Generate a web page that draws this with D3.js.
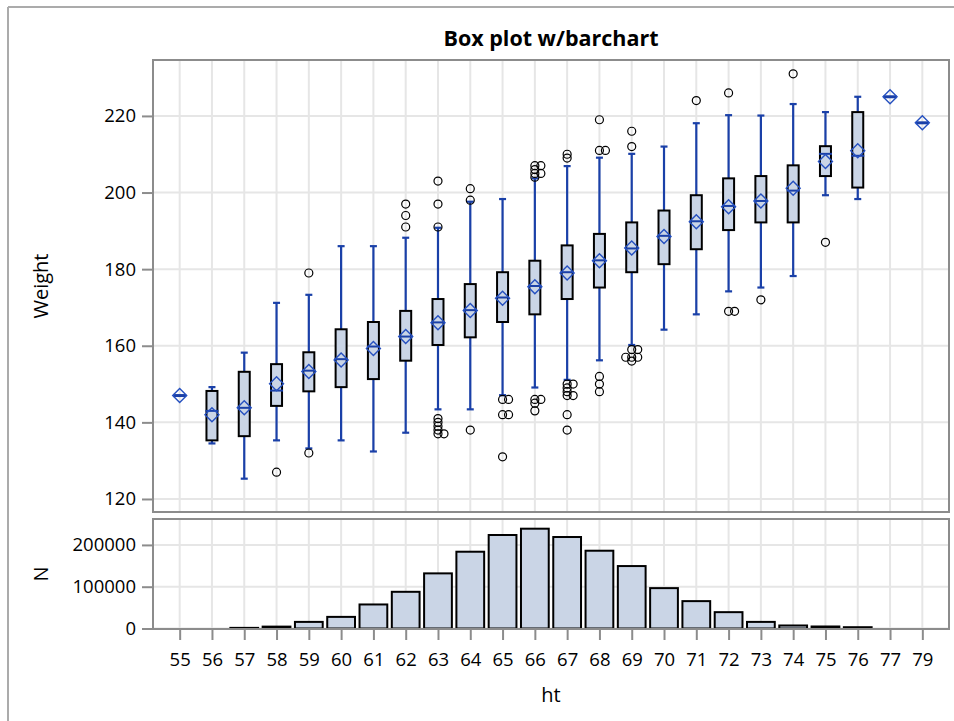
<!DOCTYPE html>
<html>
<head>
<meta charset="utf-8">
<script src="https://cdn.jsdelivr.net/npm/d3@7"></script>
<style>
  body { margin: 0; background: #fff; }
  svg text { font-family: "Open Sans", sans-serif; fill: #000; }
</style>
</head>
<body>
<div class="visHolder"></div>
<script>
// category labels (ht)
var heights = ['55', '56', '57', '58', '59', '60', '61', '62', '63', '64', '65', '66',
    '67', '68', '69', '70', '71', '72', '73', '74', '75', '76', '77', '79'];

// box statistics for Weight, one per height
var whiskerLow = [147, 134.5, 125.3, 135.3, 133.2, 135.3, 132.4, 137.3, 143.4, 143.4, 147.1, 149.1,
    151.1, 156.2, 160.2, 164.2, 168.2, 174.2, 175.2, 178.2, 199.3, 198.3, 225, 218.2];
var q1 = [147, 135.3, 136.4, 144.3, 148.1, 149.2, 151.3, 156.1, 160.2, 162.2, 166.2, 168.2,
    172.2, 175.2, 179.2, 181.3, 185.2, 190.2, 192.2, 192.2, 204.3, 201.3, 225, 218.2];
var medians = [147, 143, 143.8, 148.3, 153.5, 156.5, 159.8, 162.4, 166.1, 169.3, 172.6, 175.6,
    179.2, 182.3, 185.4, 188.7, 192.5, 196.5, 197.8, 200.5, 210.1, 209.6, 225, 218.2];
var q3 = [147, 148.2, 153.2, 155.2, 158.3, 164.3, 166.2, 169.1, 172.2, 176.1, 179.2, 182.2,
    186.2, 189.2, 192.2, 195.3, 199.3, 203.7, 204.3, 207.1, 212.1, 221, 225, 218.2];
var whiskerHigh = [147, 149.2, 158.2, 171.2, 173.3, 186, 186, 188.2, 190.8, 197.6, 198.3, 203.7,
    206.9, 209.1, 210.1, 212, 218.1, 220.2, 220.1, 223.1, 221, 225, 225, 218.2];
var means = [147, 142, 143.8, 150.1, 153.3, 156.3, 159.3, 162.4, 166, 169.2, 172.4, 175.4,
    179, 182.2, 185.5, 188.5, 192.4, 196.3, 197.8, 201.1, 208.1, 210.9, 225, 218.2];
var outliers = [
    [], [], [], [127], [132, 179], [], [], [197, 194, 191],
    [203, 197, 191, 141, 140, 139, 138, 137, 137],
    [201, 198, 138],
    [146, 146, 142, 142, 131],
    [207, 207, 206, 205, 205, 204, 146, 146, 145, 143],
    [210, 209, 150, 150, 149, 148, 147, 147, 142, 138],
    [219, 211, 211, 152, 150, 148],
    [216, 212, 159, 159, 157, 157, 157, 156],
    [], [224], [226, 169, 169], [172], [231], [187], [], [], []
];

// frequency of each height
var counts = [1, 4, 1500, 4500, 15800, 27800, 57500, 87800, 131900, 183700, 223700, 238800,
    218900, 186100, 149400, 96600, 65500, 39100, 15800, 7200, 4800, 3100, 2, 1];

var weightTicks = [120, 140, 160, 180, 200, 220];
var countTicks = [0, 100000, 200000];

var width = 954,
    height = 721,
    left = 153,
    right = 949,
    topY = 60,
    topBottom = 512,
    barTop = 519,
    barBottom = 629;

var blue = '#1a40a8',
    boxFill = '#cad5e6',
    gridColor = '#e6e6e6',
    frameColor = '#8c8c8c';

var svg = d3
    .select('.visHolder')
    .append('svg')
    .attr('width', width)
    .attr('height', height);

svg.append('rect').attr('width', width).attr('height', height).style('fill', '#fff');

// outer border (only left and top show)
svg.append('line').attr('x1', 8).attr('x2', 8).attr('y1', 7).attr('y2', height)
    .style('stroke', '#ababab').style('stroke-width', 2);
svg.append('line').attr('x1', 8).attr('x2', width).attr('y1', 7).attr('y2', 7)
    .style('stroke', '#ababab').style('stroke-width', 2);

var xScale = d3.scalePoint().domain(heights).range([left, right]).padding(0.826);
var step = xScale.step();

var yScale = d3.scaleLinear().domain([116.6, 234.6]).range([topBottom, topY]);
var nScale = d3.scaleLinear().domain([0, 262000]).range([628.5, barTop]);

// gridlines
var grid = svg.append('g');
grid.selectAll('.hgrid')
    .data(weightTicks)
    .enter()
    .append('line')
    .attr('x1', left).attr('x2', right)
    .attr('y1', d => yScale(d)).attr('y2', d => yScale(d))
    .style('stroke', gridColor).style('stroke-width', 2);
grid.selectAll('.ngrid')
    .data(countTicks)
    .enter()
    .append('line')
    .attr('x1', left).attr('x2', right)
    .attr('y1', d => nScale(d)).attr('y2', d => nScale(d))
    .style('stroke', gridColor).style('stroke-width', 2);
grid.selectAll('.vgrid')
    .data(heights)
    .enter()
    .append('line')
    .attr('x1', d => xScale(d)).attr('x2', d => xScale(d))
    .attr('y1', topY).attr('y2', topBottom)
    .style('stroke', gridColor).style('stroke-width', 2);
grid.selectAll('.vgrid2')
    .data(heights)
    .enter()
    .append('line')
    .attr('x1', d => xScale(d)).attr('x2', d => xScale(d))
    .attr('y1', barTop).attr('y2', barBottom)
    .style('stroke', gridColor).style('stroke-width', 2);

// Adding the bars (bars thinner than half a pixel are not drawn)
var barW = step * 0.86;
svg.append('g')
    .selectAll('rect')
    .data(counts.map((d, i) => ({ h: heights[i], n: d }))
        .filter(d => nScale(0) - nScale(d.n) >= 0.5))
    .enter()
    .append('rect')
    .attr('x', d => xScale(d.h) - barW / 2)
    .attr('y', d => nScale(d.n))
    .attr('width', barW)
    .attr('height', d => nScale(0) - nScale(d.n))
    .style('fill', boxFill)
    .style('stroke', '#000')
    .style('stroke-width', 2);

// Adding the boxes
var boxW = 11;
var boxes = svg.append('g');
heights.forEach(function (h, i) {
    var cx = xScale(h);
    var single = q1[i] === q3[i];
    if (!single) {
        // whiskers
        boxes.append('line')
            .attr('x1', cx).attr('x2', cx)
            .attr('y1', yScale(whiskerLow[i])).attr('y2', yScale(whiskerHigh[i]))
            .style('stroke', blue).style('stroke-width', 2.2);
        [whiskerLow[i], whiskerHigh[i]].forEach(function (w) {
            boxes.append('line')
                .attr('x1', cx - 3.5).attr('x2', cx + 3.5)
                .attr('y1', yScale(w)).attr('y2', yScale(w))
                .style('stroke', blue).style('stroke-width', 2.2);
        });
        boxes.append('rect')
            .attr('x', cx - boxW / 2)
            .attr('y', yScale(q3[i]))
            .attr('width', boxW)
            .attr('height', yScale(q1[i]) - yScale(q3[i]))
            .style('fill', boxFill)
            .style('stroke', '#000')
            .style('stroke-width', 2);
    }
    // median
    boxes.append('line')
        .attr('x1', cx - 6.5).attr('x2', cx + 6.5)
        .attr('y1', yScale(medians[i])).attr('y2', yScale(medians[i]))
        .style('stroke', blue).style('stroke-width', single ? 3 : 2);
    // mean diamond
    var my = yScale(means[i]);
    boxes.append('path')
        .attr('d', 'M' + cx + ',' + (my - 7) + 'L' + (cx + 7) + ',' + my +
            'L' + cx + ',' + (my + 7) + 'L' + (cx - 7) + ',' + my + 'Z')
        .style('fill', 'none')
        .style('stroke', '#2550c0')
        .style('stroke-width', 1.4);
    // outliers, repeated values pushed aside
    var seen = {};
    outliers[i].forEach(function (v) {
        var k = seen[v] || 0;
        seen[v] = k + 1;
        var dx = k === 0 ? 0 : (k % 2 === 1 ? 6 : -6);
        boxes.append('circle')
            .attr('cx', cx + dx)
            .attr('cy', yScale(v))
            .attr('r', 4)
            .style('fill', 'none')
            .style('stroke', '#000')
            .style('stroke-width', 1.2);
    });
});

// panel frames
svg.append('rect')
    .attr('x', left).attr('y', topY)
    .attr('width', right - left).attr('height', topBottom - topY)
    .style('fill', 'none').style('stroke', frameColor).style('stroke-width', 2);
svg.append('rect')
    .attr('x', left).attr('y', barTop)
    .attr('width', right - left).attr('height', barBottom - barTop)
    .style('fill', 'none').style('stroke', frameColor).style('stroke-width', 2);

// Adding the axes
var yAxis = d3.axisLeft(yScale).tickValues(weightTicks).tickSize(10).tickPadding(6);
var nAxis = d3.axisLeft(nScale).tickValues(countTicks).tickSize(10).tickPadding(6)
    .tickFormat(d3.format('d'));
var xAxis = d3.axisBottom(xScale).tickSize(10).tickPadding(13);

function styleAxis(g) {
    g.select('.domain').remove();
    g.selectAll('.tick line').style('stroke', frameColor).style('stroke-width', 2);
    g.selectAll('.tick text').style('font-size', '18.5px').style('fill', '#000')
        .style('font-family', '"Open Sans", sans-serif');
}

svg.append('g').attr('transform', 'translate(152,0)').call(yAxis).call(styleAxis);
svg.append('g').attr('transform', 'translate(152,0)').call(nAxis).call(styleAxis);
svg.append('g').attr('transform', 'translate(0,630)').call(xAxis).call(styleAxis);

// Adding the title
svg.append('text')
    .attr('x', (left + right) / 2)
    .attr('y', 46)
    .attr('text-anchor', 'middle')
    .style('font-size', '21.5px')
    .style('font-weight', 'bold')
    .text('Box plot w/barchart');

// Adding axis labels
svg.append('text')
    .attr('transform', 'translate(48,' + (topY + topBottom) / 2 + ') rotate(-90)')
    .attr('text-anchor', 'middle')
    .style('font-size', '20px')
    .text('Weight');
svg.append('text')
    .attr('transform', 'translate(48,' + (barTop + barBottom) / 2 + ') rotate(-90)')
    .attr('text-anchor', 'middle')
    .style('font-size', '20px')
    .text('N');
svg.append('text')
    .attr('x', (left + right) / 2)
    .attr('y', 702)
    .attr('text-anchor', 'middle')
    .style('font-size', '20px')
    .text('ht');
</script>
</body>
</html>
